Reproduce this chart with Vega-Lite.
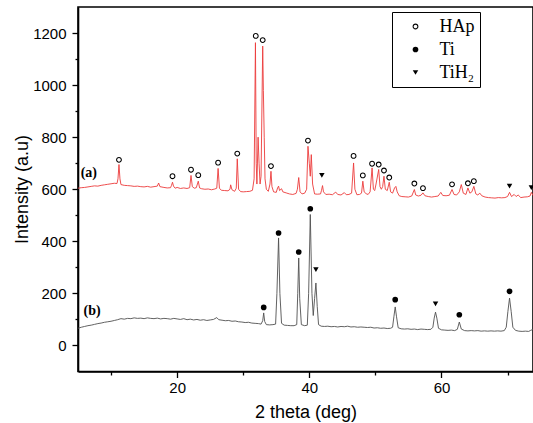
{
  "$schema": "https://vega.github.io/schema/vega-lite/v6.json",
  "autosize": "none",
  "width": 455,
  "height": 364.5,
  "padding": {"left": 78, "top": 7, "right": 0, "bottom": 52},
  "background": "white",
  "config": {
    "view": {"stroke": "black", "strokeWidth": 1.6},
    "axis": {
      "domainColor": "black", "domainWidth": 1.6, "tickColor": "black", "tickWidth": 1.3,
      "labelFont": "Liberation Sans", "labelFontSize": 15, "labelColor": "black",
      "titleFont": "Liberation Sans", "titleFontSize": 18, "titleFontWeight": "normal", "titleColor": "black",
      "grid": false
    },
    "legend": {
      "orient": "none", "legendX": 314, "legendY": 5,
      "strokeColor": "black", "fillColor": "white", "padding": 5.5,
      "symbolOffset": 9, "labelOffset": 15, "rowPadding": 5,
      "labelFont": "Liberation Serif", "labelFontSize": 18, "labelColor": "black",
      "symbolFillColor": "black", "symbolStrokeWidth": 0
    }
  },
  "datasets": {
    "spectra": [
      {"theta":5.0,"intensity":604,"series":"a"},{"theta":5.5,"intensity":606,"series":"a"},{"theta":6.0,"intensity":607,"series":"a"},{"theta":6.5,"intensity":609,"series":"a"},{"theta":7.0,"intensity":611,"series":"a"},{"theta":7.5,"intensity":613,"series":"a"},{"theta":8.0,"intensity":612,"series":"a"},{"theta":8.5,"intensity":615,"series":"a"},{"theta":9.0,"intensity":617,"series":"a"},{"theta":9.5,"intensity":619,"series":"a"},{"theta":10.0,"intensity":621,"series":"a"},{"theta":10.5,"intensity":623,"series":"a"},{"theta":10.9,"intensity":622,"series":"a"},{"theta":11.05,"intensity":640,"series":"a"},{"theta":11.2,"intensity":695,"series":"a"},{"theta":11.35,"intensity":640,"series":"a"},{"theta":11.5,"intensity":618,"series":"a"},{"theta":12.0,"intensity":615,"series":"a"},{"theta":12.5,"intensity":614,"series":"a"},{"theta":13.0,"intensity":613,"series":"a"},{"theta":13.5,"intensity":611,"series":"a"},{"theta":14.0,"intensity":612,"series":"a"},{"theta":14.5,"intensity":610,"series":"a"},{"theta":15.0,"intensity":609,"series":"a"},{"theta":15.5,"intensity":611,"series":"a"},{"theta":16.0,"intensity":608,"series":"a"},{"theta":16.5,"intensity":610,"series":"a"},{"theta":17.0,"intensity":612,"series":"a"},{"theta":17.2,"intensity":624,"series":"a"},{"theta":17.4,"intensity":610,"series":"a"},{"theta":18.0,"intensity":607,"series":"a"},{"theta":18.5,"intensity":605,"series":"a"},{"theta":19.0,"intensity":606,"series":"a"},{"theta":19.15,"intensity":615,"series":"a"},{"theta":19.3,"intensity":627,"series":"a"},{"theta":19.45,"intensity":612,"series":"a"},{"theta":19.7,"intensity":604,"series":"a"},{"theta":20.0,"intensity":607,"series":"a"},{"theta":20.5,"intensity":603,"series":"a"},{"theta":21.0,"intensity":605,"series":"a"},{"theta":21.5,"intensity":603,"series":"a"},{"theta":21.9,"intensity":606,"series":"a"},{"theta":22.1,"intensity":653,"series":"a"},{"theta":22.3,"intensity":610,"series":"a"},{"theta":22.6,"intensity":604,"series":"a"},{"theta":22.9,"intensity":606,"series":"a"},{"theta":23.2,"intensity":631,"series":"a"},{"theta":23.4,"intensity":605,"series":"a"},{"theta":23.7,"intensity":602,"series":"a"},{"theta":24.2,"intensity":600,"series":"a"},{"theta":24.7,"intensity":601,"series":"a"},{"theta":25.2,"intensity":598,"series":"a"},{"theta":25.7,"intensity":601,"series":"a"},{"theta":26.0,"intensity":604,"series":"a"},{"theta":26.2,"intensity":680,"series":"a"},{"theta":26.4,"intensity":604,"series":"a"},{"theta":26.7,"intensity":596,"series":"a"},{"theta":27.2,"intensity":595,"series":"a"},{"theta":27.7,"intensity":594,"series":"a"},{"theta":28.0,"intensity":600,"series":"a"},{"theta":28.1,"intensity":617,"series":"a"},{"theta":28.3,"intensity":598,"series":"a"},{"theta":28.7,"intensity":592,"series":"a"},{"theta":28.95,"intensity":604,"series":"a"},{"theta":29.1,"intensity":717,"series":"a"},{"theta":29.3,"intensity":600,"series":"a"},{"theta":29.6,"intensity":591,"series":"a"},{"theta":30.0,"intensity":590,"series":"a"},{"theta":30.5,"intensity":591,"series":"a"},{"theta":31.0,"intensity":592,"series":"a"},{"theta":31.4,"intensity":596,"series":"a"},{"theta":31.65,"intensity":640,"series":"a"},{"theta":31.85,"intensity":1163,"series":"a"},{"theta":31.97,"intensity":700,"series":"a"},{"theta":32.07,"intensity":620,"series":"a"},{"theta":32.25,"intensity":800,"series":"a"},{"theta":32.4,"intensity":700,"series":"a"},{"theta":32.55,"intensity":620,"series":"a"},{"theta":32.7,"intensity":650,"series":"a"},{"theta":32.95,"intensity":1150,"series":"a"},{"theta":33.05,"intensity":980,"series":"a"},{"theta":33.18,"intensity":800,"series":"a"},{"theta":33.3,"intensity":640,"series":"a"},{"theta":33.5,"intensity":600,"series":"a"},{"theta":33.8,"intensity":592,"series":"a"},{"theta":34.05,"intensity":620,"series":"a"},{"theta":34.2,"intensity":669,"series":"a"},{"theta":34.35,"intensity":610,"series":"a"},{"theta":34.6,"intensity":590,"series":"a"},{"theta":35.0,"intensity":588,"series":"a"},{"theta":35.2,"intensity":605,"series":"a"},{"theta":35.35,"intensity":612,"series":"a"},{"theta":35.5,"intensity":595,"series":"a"},{"theta":35.8,"intensity":602,"series":"a"},{"theta":36.0,"intensity":590,"series":"a"},{"theta":36.5,"intensity":586,"series":"a"},{"theta":37.0,"intensity":582,"series":"a"},{"theta":37.5,"intensity":580,"series":"a"},{"theta":38.0,"intensity":584,"series":"a"},{"theta":38.2,"intensity":600,"series":"a"},{"theta":38.4,"intensity":645,"series":"a"},{"theta":38.6,"intensity":590,"series":"a"},{"theta":38.9,"intensity":582,"series":"a"},{"theta":39.3,"intensity":585,"series":"a"},{"theta":39.6,"intensity":600,"series":"a"},{"theta":39.8,"intensity":765,"series":"a"},{"theta":40.0,"intensity":700,"series":"a"},{"theta":40.15,"intensity":650,"series":"a"},{"theta":40.3,"intensity":733,"series":"a"},{"theta":40.5,"intensity":620,"series":"a"},{"theta":40.8,"intensity":582,"series":"a"},{"theta":41.2,"intensity":581,"series":"a"},{"theta":41.7,"intensity":582,"series":"a"},{"theta":41.85,"intensity":596,"series":"a"},{"theta":42.0,"intensity":614,"series":"a"},{"theta":42.15,"intensity":590,"series":"a"},{"theta":42.5,"intensity":580,"series":"a"},{"theta":43.0,"intensity":581,"series":"a"},{"theta":43.5,"intensity":579,"series":"a"},{"theta":44.0,"intensity":589,"series":"a"},{"theta":44.3,"intensity":580,"series":"a"},{"theta":44.8,"intensity":578,"series":"a"},{"theta":45.3,"intensity":587,"series":"a"},{"theta":45.6,"intensity":579,"series":"a"},{"theta":46.0,"intensity":580,"series":"a"},{"theta":46.4,"intensity":585,"series":"a"},{"theta":46.7,"intensity":701,"series":"a"},{"theta":46.9,"intensity":600,"series":"a"},{"theta":47.2,"intensity":579,"series":"a"},{"theta":47.6,"intensity":580,"series":"a"},{"theta":47.9,"intensity":585,"series":"a"},{"theta":48.1,"intensity":631,"series":"a"},{"theta":48.3,"intensity":590,"series":"a"},{"theta":48.6,"intensity":583,"series":"a"},{"theta":48.9,"intensity":580,"series":"a"},{"theta":49.2,"intensity":590,"series":"a"},{"theta":49.5,"intensity":682,"series":"a"},{"theta":49.7,"intensity":600,"series":"a"},{"theta":49.9,"intensity":595,"series":"a"},{"theta":50.1,"intensity":620,"series":"a"},{"theta":50.5,"intensity":676,"series":"a"},{"theta":50.7,"intensity":610,"series":"a"},{"theta":50.9,"intensity":600,"series":"a"},{"theta":51.1,"intensity":610,"series":"a"},{"theta":51.3,"intensity":650,"series":"a"},{"theta":51.5,"intensity":600,"series":"a"},{"theta":51.8,"intensity":595,"series":"a"},{"theta":52.1,"intensity":627,"series":"a"},{"theta":52.3,"intensity":590,"series":"a"},{"theta":52.6,"intensity":585,"series":"a"},{"theta":52.9,"intensity":605,"series":"a"},{"theta":53.1,"intensity":611,"series":"a"},{"theta":53.3,"intensity":590,"series":"a"},{"theta":53.6,"intensity":575,"series":"a"},{"theta":54.0,"intensity":572,"series":"a"},{"theta":54.5,"intensity":571,"series":"a"},{"theta":55.0,"intensity":570,"series":"a"},{"theta":55.5,"intensity":574,"series":"a"},{"theta":55.9,"intensity":599,"series":"a"},{"theta":56.1,"intensity":578,"series":"a"},{"theta":56.5,"intensity":574,"series":"a"},{"theta":56.9,"intensity":577,"series":"a"},{"theta":57.2,"intensity":586,"series":"a"},{"theta":57.5,"intensity":575,"series":"a"},{"theta":58.0,"intensity":572,"series":"a"},{"theta":58.5,"intensity":570,"series":"a"},{"theta":59.0,"intensity":572,"series":"a"},{"theta":59.5,"intensity":574,"series":"a"},{"theta":59.9,"intensity":588,"series":"a"},{"theta":60.2,"intensity":576,"series":"a"},{"theta":60.7,"intensity":575,"series":"a"},{"theta":61.2,"intensity":577,"series":"a"},{"theta":61.6,"intensity":599,"series":"a"},{"theta":61.9,"intensity":580,"series":"a"},{"theta":62.3,"intensity":578,"series":"a"},{"theta":62.7,"intensity":590,"series":"a"},{"theta":63.0,"intensity":618,"series":"a"},{"theta":63.3,"intensity":585,"series":"a"},{"theta":63.7,"intensity":580,"series":"a"},{"theta":64.0,"intensity":605,"series":"a"},{"theta":64.3,"intensity":585,"series":"a"},{"theta":64.6,"intensity":590,"series":"a"},{"theta":64.9,"intensity":611,"series":"a"},{"theta":65.2,"intensity":582,"series":"a"},{"theta":65.5,"intensity":578,"series":"a"},{"theta":65.8,"intensity":585,"series":"a"},{"theta":66.1,"intensity":575,"series":"a"},{"theta":66.6,"intensity":570,"series":"a"},{"theta":67.1,"intensity":568,"series":"a"},{"theta":67.6,"intensity":567,"series":"a"},{"theta":68.1,"intensity":566,"series":"a"},{"theta":68.6,"intensity":568,"series":"a"},{"theta":69.1,"intensity":567,"series":"a"},{"theta":69.6,"intensity":568,"series":"a"},{"theta":70.0,"intensity":572,"series":"a"},{"theta":70.3,"intensity":588,"series":"a"},{"theta":70.6,"intensity":572,"series":"a"},{"theta":71.0,"intensity":580,"series":"a"},{"theta":71.3,"intensity":572,"series":"a"},{"theta":71.6,"intensity":578,"series":"a"},{"theta":72.0,"intensity":568,"series":"a"},{"theta":72.5,"intensity":570,"series":"a"},{"theta":73.0,"intensity":571,"series":"a"},{"theta":73.4,"intensity":574,"series":"a"},{"theta":73.6,"intensity":588,"series":"a"},{"theta":73.85,"intensity":576,"series":"a"},
      {"theta":5.0,"intensity":66,"series":"b"},{"theta":5.5,"intensity":70,"series":"b"},{"theta":6.0,"intensity":73,"series":"b"},{"theta":6.5,"intensity":76,"series":"b"},{"theta":7.0,"intensity":78,"series":"b"},{"theta":7.5,"intensity":81,"series":"b"},{"theta":8.0,"intensity":84,"series":"b"},{"theta":8.5,"intensity":86,"series":"b"},{"theta":9.0,"intensity":89,"series":"b"},{"theta":9.5,"intensity":91,"series":"b"},{"theta":10.0,"intensity":93,"series":"b"},{"theta":10.5,"intensity":96,"series":"b"},{"theta":11.0,"intensity":99,"series":"b"},{"theta":11.5,"intensity":103,"series":"b"},{"theta":12.0,"intensity":101,"series":"b"},{"theta":12.5,"intensity":104,"series":"b"},{"theta":13.0,"intensity":103,"series":"b"},{"theta":13.5,"intensity":106,"series":"b"},{"theta":14.0,"intensity":104,"series":"b"},{"theta":14.5,"intensity":105,"series":"b"},{"theta":15.0,"intensity":103,"series":"b"},{"theta":15.5,"intensity":106,"series":"b"},{"theta":16.0,"intensity":104,"series":"b"},{"theta":16.5,"intensity":103,"series":"b"},{"theta":17.0,"intensity":105,"series":"b"},{"theta":17.5,"intensity":102,"series":"b"},{"theta":18.0,"intensity":104,"series":"b"},{"theta":18.5,"intensity":103,"series":"b"},{"theta":19.0,"intensity":101,"series":"b"},{"theta":19.5,"intensity":104,"series":"b"},{"theta":20.0,"intensity":102,"series":"b"},{"theta":20.5,"intensity":100,"series":"b"},{"theta":21.0,"intensity":103,"series":"b"},{"theta":21.5,"intensity":99,"series":"b"},{"theta":22.0,"intensity":101,"series":"b"},{"theta":22.5,"intensity":98,"series":"b"},{"theta":23.0,"intensity":100,"series":"b"},{"theta":23.5,"intensity":97,"series":"b"},{"theta":24.0,"intensity":99,"series":"b"},{"theta":24.5,"intensity":96,"series":"b"},{"theta":25.0,"intensity":98,"series":"b"},{"theta":25.5,"intensity":100,"series":"b"},{"theta":26.0,"intensity":107,"series":"b"},{"theta":26.3,"intensity":99,"series":"b"},{"theta":26.8,"intensity":97,"series":"b"},{"theta":27.3,"intensity":95,"series":"b"},{"theta":27.8,"intensity":96,"series":"b"},{"theta":28.3,"intensity":93,"series":"b"},{"theta":28.8,"intensity":94,"series":"b"},{"theta":29.3,"intensity":91,"series":"b"},{"theta":29.8,"intensity":90,"series":"b"},{"theta":30.3,"intensity":88,"series":"b"},{"theta":30.8,"intensity":89,"series":"b"},{"theta":31.3,"intensity":86,"series":"b"},{"theta":31.8,"intensity":85,"series":"b"},{"theta":32.3,"intensity":84,"series":"b"},{"theta":32.7,"intensity":82,"series":"b"},{"theta":32.95,"intensity":95,"series":"b"},{"theta":33.1,"intensity":125,"series":"b"},{"theta":33.25,"intensity":92,"series":"b"},{"theta":33.5,"intensity":80,"series":"b"},{"theta":34.0,"intensity":79,"series":"b"},{"theta":34.5,"intensity":80,"series":"b"},{"theta":34.9,"intensity":82,"series":"b"},{"theta":35.1,"intensity":200,"series":"b"},{"theta":35.35,"intensity":413,"series":"b"},{"theta":35.55,"intensity":200,"series":"b"},{"theta":35.8,"intensity":85,"series":"b"},{"theta":36.2,"intensity":78,"series":"b"},{"theta":36.7,"intensity":77,"series":"b"},{"theta":37.2,"intensity":76,"series":"b"},{"theta":37.7,"intensity":76,"series":"b"},{"theta":38.1,"intensity":80,"series":"b"},{"theta":38.25,"intensity":200,"series":"b"},{"theta":38.4,"intensity":336,"series":"b"},{"theta":38.55,"intensity":180,"series":"b"},{"theta":38.8,"intensity":80,"series":"b"},{"theta":39.3,"intensity":76,"series":"b"},{"theta":39.7,"intensity":78,"series":"b"},{"theta":39.9,"intensity":200,"series":"b"},{"theta":40.15,"intensity":503,"series":"b"},{"theta":40.4,"intensity":200,"series":"b"},{"theta":40.6,"intensity":115,"series":"b"},{"theta":40.8,"intensity":180,"series":"b"},{"theta":41.0,"intensity":240,"series":"b"},{"theta":41.2,"intensity":150,"series":"b"},{"theta":41.4,"intensity":80,"series":"b"},{"theta":41.8,"intensity":74,"series":"b"},{"theta":42.3,"intensity":73,"series":"b"},{"theta":42.8,"intensity":74,"series":"b"},{"theta":43.3,"intensity":72,"series":"b"},{"theta":43.8,"intensity":73,"series":"b"},{"theta":44.3,"intensity":71,"series":"b"},{"theta":44.8,"intensity":73,"series":"b"},{"theta":45.3,"intensity":72,"series":"b"},{"theta":45.8,"intensity":74,"series":"b"},{"theta":46.3,"intensity":71,"series":"b"},{"theta":46.8,"intensity":72,"series":"b"},{"theta":47.3,"intensity":70,"series":"b"},{"theta":47.8,"intensity":71,"series":"b"},{"theta":48.3,"intensity":70,"series":"b"},{"theta":48.8,"intensity":69,"series":"b"},{"theta":49.3,"intensity":70,"series":"b"},{"theta":49.8,"intensity":67,"series":"b"},{"theta":50.3,"intensity":68,"series":"b"},{"theta":50.8,"intensity":66,"series":"b"},{"theta":51.3,"intensity":67,"series":"b"},{"theta":51.8,"intensity":65,"series":"b"},{"theta":52.3,"intensity":66,"series":"b"},{"theta":52.6,"intensity":70,"series":"b"},{"theta":52.8,"intensity":110,"series":"b"},{"theta":53.0,"intensity":148,"series":"b"},{"theta":53.2,"intensity":110,"series":"b"},{"theta":53.45,"intensity":68,"series":"b"},{"theta":53.9,"intensity":64,"series":"b"},{"theta":54.4,"intensity":63,"series":"b"},{"theta":54.9,"intensity":64,"series":"b"},{"theta":55.4,"intensity":62,"series":"b"},{"theta":55.9,"intensity":63,"series":"b"},{"theta":56.4,"intensity":61,"series":"b"},{"theta":56.9,"intensity":63,"series":"b"},{"theta":57.4,"intensity":62,"series":"b"},{"theta":57.9,"intensity":61,"series":"b"},{"theta":58.4,"intensity":62,"series":"b"},{"theta":58.7,"intensity":70,"series":"b"},{"theta":58.9,"intensity":105,"series":"b"},{"theta":59.1,"intensity":128,"series":"b"},{"theta":59.3,"intensity":105,"series":"b"},{"theta":59.55,"intensity":66,"series":"b"},{"theta":60.0,"intensity":60,"series":"b"},{"theta":60.5,"intensity":59,"series":"b"},{"theta":61.0,"intensity":58,"series":"b"},{"theta":61.5,"intensity":59,"series":"b"},{"theta":62.0,"intensity":57,"series":"b"},{"theta":62.4,"intensity":62,"series":"b"},{"theta":62.7,"intensity":90,"series":"b"},{"theta":63.0,"intensity":63,"series":"b"},{"theta":63.5,"intensity":57,"series":"b"},{"theta":64.0,"intensity":56,"series":"b"},{"theta":64.5,"intensity":57,"series":"b"},{"theta":65.0,"intensity":56,"series":"b"},{"theta":65.5,"intensity":57,"series":"b"},{"theta":66.0,"intensity":55,"series":"b"},{"theta":66.5,"intensity":56,"series":"b"},{"theta":67.0,"intensity":55,"series":"b"},{"theta":67.5,"intensity":56,"series":"b"},{"theta":68.0,"intensity":55,"series":"b"},{"theta":68.5,"intensity":56,"series":"b"},{"theta":69.0,"intensity":55,"series":"b"},{"theta":69.5,"intensity":57,"series":"b"},{"theta":69.8,"intensity":70,"series":"b"},{"theta":70.05,"intensity":130,"series":"b"},{"theta":70.3,"intensity":182,"series":"b"},{"theta":70.55,"intensity":130,"series":"b"},{"theta":70.8,"intensity":70,"series":"b"},{"theta":71.2,"intensity":58,"series":"b"},{"theta":71.7,"intensity":55,"series":"b"},{"theta":72.2,"intensity":54,"series":"b"},{"theta":72.7,"intensity":55,"series":"b"},{"theta":73.2,"intensity":54,"series":"b"},{"theta":73.5,"intensity":58,"series":"b"},{"theta":73.85,"intensity":62,"series":"b"}
    ],
    "markers": [
      {"theta":11.2,"intensity":713,"phase":"HAp"},{"theta":19.3,"intensity":650,"phase":"HAp"},{"theta":22.1,"intensity":675,"phase":"HAp"},{"theta":23.2,"intensity":654,"phase":"HAp"},{"theta":26.2,"intensity":702,"phase":"HAp"},{"theta":29.1,"intensity":737,"phase":"HAp"},{"theta":31.9,"intensity":1189,"phase":"HAp"},{"theta":32.95,"intensity":1173,"phase":"HAp"},{"theta":34.2,"intensity":689,"phase":"HAp"},{"theta":39.8,"intensity":787,"phase":"HAp"},{"theta":46.7,"intensity":728,"phase":"HAp"},{"theta":48.1,"intensity":653,"phase":"HAp"},{"theta":49.5,"intensity":698,"phase":"HAp"},{"theta":50.5,"intensity":695,"phase":"HAp"},{"theta":51.3,"intensity":672,"phase":"HAp"},{"theta":52.1,"intensity":645,"phase":"HAp"},{"theta":55.9,"intensity":622,"phase":"HAp"},{"theta":57.2,"intensity":604,"phase":"HAp"},{"theta":61.6,"intensity":619,"phase":"HAp"},{"theta":64.0,"intensity":623,"phase":"HAp"},{"theta":64.9,"intensity":631,"phase":"HAp"},
      {"theta":33.1,"intensity":146,"phase":"Ti"},{"theta":35.35,"intensity":432,"phase":"Ti"},{"theta":38.4,"intensity":359,"phase":"Ti"},{"theta":40.15,"intensity":525,"phase":"Ti"},{"theta":53.0,"intensity":176,"phase":"Ti"},{"theta":62.7,"intensity":118,"phase":"Ti"},{"theta":70.3,"intensity":208,"phase":"Ti"},
      {"theta":41.0,"intensity":291,"phase":"TiH₂"},{"theta":41.9,"intensity":653,"phase":"TiH₂"},{"theta":59.1,"intensity":160,"phase":"TiH₂"},{"theta":70.3,"intensity":612,"phase":"TiH₂"},{"theta":73.6,"intensity":606,"phase":"TiH₂"}
    ],
    "labels": [
      {"theta":5.4,"intensity":664,"label":"(a)"},
      {"theta":5.85,"intensity":133,"label":"(b)"}
    ]
  },
  "encoding": {
    "x": {"field": "theta", "type": "quantitative",
      "scale": {"domain": [5, 73.85], "nice": false, "zero": false},
      "axis": {"title": "2 theta (deg)", "values": [10, 20, 30, 40, 50, 60, 70],
        "labelExpr": "datum.value % 20 == 0 ? datum.label : ''",
        "tickSize": {"expr": "datum.value % 20 == 0 ? 6 : 3.5"},
        "labelPadding": 3, "titleY": 46, "titleBaseline": "alphabetic"}},
    "y": {"field": "intensity", "type": "quantitative",
      "scale": {"domain": [-100, 1300], "nice": false, "zero": false},
      "axis": {"title": "Intensity (a.u)", "format": "d", "values": [0, 100, 200, 300, 400, 500, 600, 700, 800, 900, 1000, 1100, 1200],
        "labelExpr": "datum.value % 200 == 0 ? datum.label : ''",
        "tickSize": {"expr": "datum.value % 200 == 0 ? 6 : 3"},
        "labelPadding": 6, "titleX": -51, "titleY": 182, "titleAngle": -90, "titleAlign": "center", "titleBaseline": "alphabetic"}}
  },
  "layer": [
    {
      "data": {"name": "spectra"},
      "mark": {"type": "line", "strokeWidth": 0.9, "clip": true},
      "encoding": {
        "color": {"field": "series", "type": "nominal",
          "scale": {"domain": ["a", "b"], "range": ["#ec3b3b", "#505050"]}, "legend": null}
      }
    },
    {
      "data": {"name": "markers"},
      "mark": {"type": "point", "filled": true, "color": "black", "strokeWidth": 0, "opacity": 1},
      "encoding": {
        "shape": {"field": "phase", "type": "nominal",
          "scale": {"domain": ["HAp", "Ti", "TiH₂"], "range": ["M-1,0A1,1 0 1,0 1,0A1,1 0 1,0 -1,0ZM-0.64,0A0.64,0.64 0 1,1 0.64,0A0.64,0.64 0 1,1 -0.64,0Z", "circle", "triangle-down"]},
          "legend": {"title": null}},
        "size": {"field": "phase", "type": "nominal",
          "scale": {"domain": ["HAp", "Ti", "TiH₂"], "range": [34, 30, 60]},
          "legend": {"title": null}}
      }
    },
    {
      "data": {"name": "labels"},
      "mark": {"type": "text", "font": "Liberation Serif", "fontWeight": "bold", "fontSize": 14, "align": "left", "baseline": "middle", "color": "black"},
      "encoding": {"text": {"field": "label"}}
    }
  ]
}
